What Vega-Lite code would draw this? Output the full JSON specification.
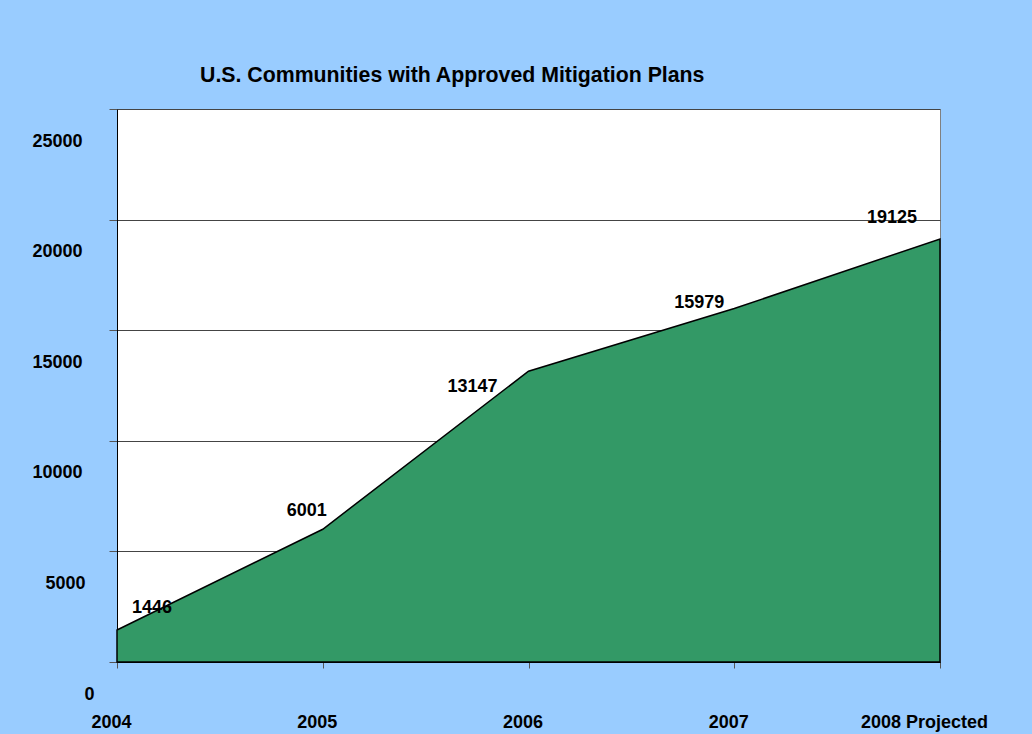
{
  "$schema": "https://vega.github.io/schema/vega-lite/v6.json",
  "width": 823,
  "height": 553,
  "autosize": {"type": "none"},
  "padding": {"left": 117, "top": 109, "right": 92, "bottom": 72},
  "background": "#99CCFF",
  "config": {
    "font": "Liberation Sans",
    "view": {"fill": "#FFFFFF", "stroke": "#808080", "strokeWidth": 1}
  },
  "title": {
    "text": "U.S. Communities with Approved Mitigation Plans",
    "anchor": "start",
    "frame": "group",
    "dx": 83,
    "offset": 5,
    "baseline": "alphabetic",
    "fontSize": 21.3,
    "fontWeight": "bold",
    "font": "Liberation Sans",
    "color": "#000000"
  },
  "data": {
    "values": [
      {"year": "2004", "plans": 1446},
      {"year": "2005", "plans": 6001},
      {"year": "2006", "plans": 13147},
      {"year": "2007", "plans": 15979},
      {"year": "2008 Projected", "plans": 19125}
    ]
  },
  "encoding": {
    "x": {
      "field": "year",
      "type": "ordinal",
      "sort": null,
      "scale": {"type": "point", "padding": 0},
      "axis": {
        "title": null,
        "labelAngle": 0,
        "labelFont": "Liberation Sans",
        "labelFontSize": 18,
        "labelFontWeight": "bold",
        "labelColor": "#000000",
        "labelPadding": 45,
        "labelOffset": {"expr": "datum.value == '2008 Projected' ? -16 : -6"},
        "labelOverlap": false,
        "tickSize": 6,
        "tickColor": "#555555",
        "domainColor": "#000000",
        "domainWidth": 1,
        "grid": false
      }
    },
    "y": {
      "field": "plans",
      "type": "quantitative",
      "scale": {"domain": [0, 25000], "nice": false, "zero": true},
      "axis": {
        "title": null,
        "values": [0, 5000, 10000, 15000, 20000, 25000],
        "format": "d",
        "labelOffset": 32,
        "labelPadding": {"expr": "datum.value == 0 ? 15 : datum.value == 5000 ? 24 : 27"},
        "labelFont": "Liberation Sans",
        "labelFontSize": 18,
        "labelFontWeight": "bold",
        "labelColor": "#000000",
        "labelBaseline": "middle",
        "labelOverlap": false,
        "tickSize": 8,
        "tickColor": "#555555",
        "domainColor": "#000000",
        "grid": true,
        "gridColor": "#444444",
        "gridWidth": 1,
        "gridOpacity": 1
      }
    }
  },
  "layer": [
    {
      "mark": {"type": "area", "color": "#339966", "stroke": "#000000", "strokeWidth": 1.5, "line": false}
    },
    {
      "transform": [{"filter": "datum.year == '2004'"}],
      "mark": {"type": "text", "dx": 35, "dy": -22, "fontSize": 18, "fontWeight": "bold", "color": "#000000", "align": "center", "baseline": "middle"},
      "encoding": {"text": {"field": "plans", "type": "quantitative", "format": "d"}}
    },
    {
      "transform": [{"filter": "datum.year == '2005'"}],
      "mark": {"type": "text", "dx": -16, "dy": -18, "fontSize": 18, "fontWeight": "bold", "color": "#000000", "align": "center", "baseline": "middle"},
      "encoding": {"text": {"field": "plans", "type": "quantitative", "format": "d"}}
    },
    {
      "transform": [{"filter": "datum.year == '2006'"}],
      "mark": {"type": "text", "dx": -56, "dy": 16, "fontSize": 18, "fontWeight": "bold", "color": "#000000", "align": "center", "baseline": "middle"},
      "encoding": {"text": {"field": "plans", "type": "quantitative", "format": "d"}}
    },
    {
      "transform": [{"filter": "datum.year == '2007'"}],
      "mark": {"type": "text", "dx": -35, "dy": -6, "fontSize": 18, "fontWeight": "bold", "color": "#000000", "align": "center", "baseline": "middle"},
      "encoding": {"text": {"field": "plans", "type": "quantitative", "format": "d"}}
    },
    {
      "transform": [{"filter": "datum.year == '2008 Projected'"}],
      "mark": {"type": "text", "dx": -48, "dy": -21, "fontSize": 18, "fontWeight": "bold", "color": "#000000", "align": "center", "baseline": "middle"},
      "encoding": {"text": {"field": "plans", "type": "quantitative", "format": "d"}}
    }
  ]
}
